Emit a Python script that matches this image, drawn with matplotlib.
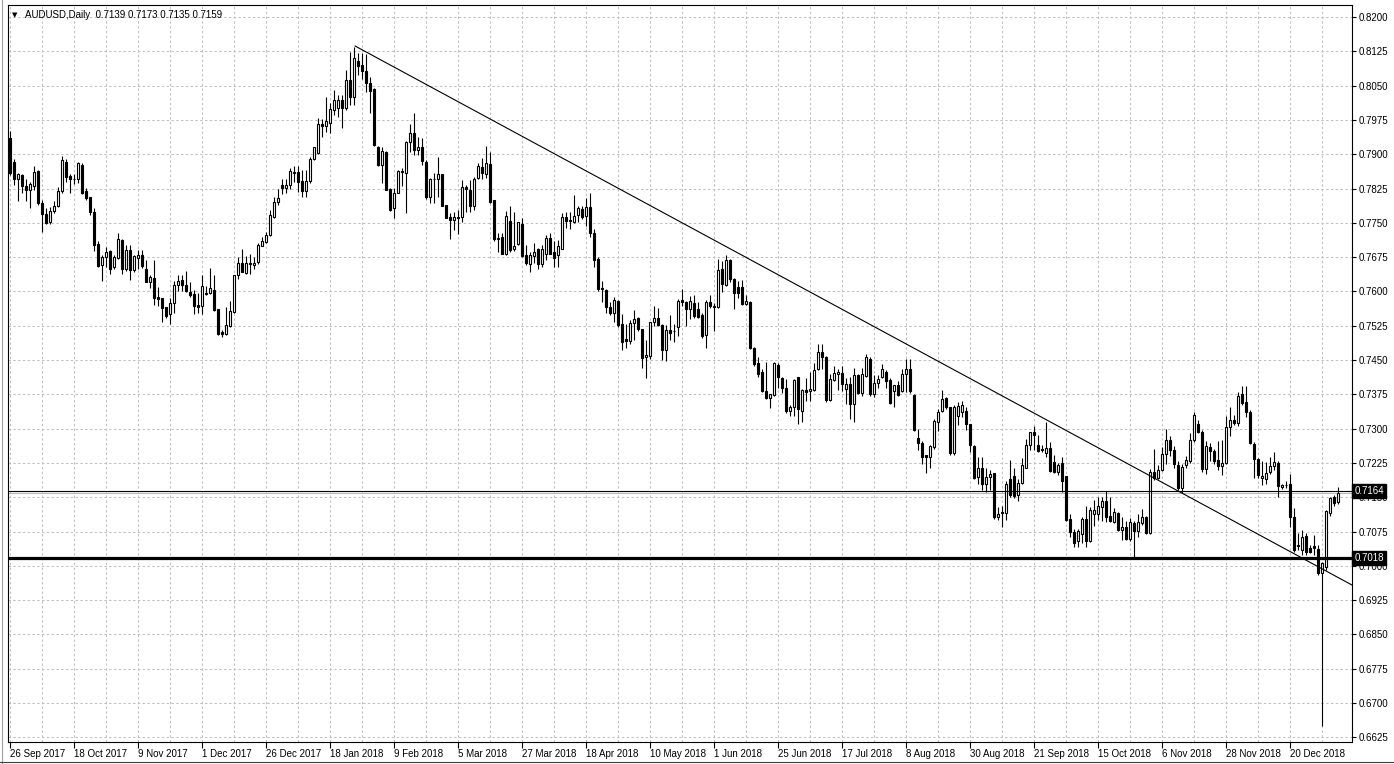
import matplotlib
matplotlib.use("Agg")
import matplotlib.pyplot as plt
import matplotlib.transforms as mtransforms
import numpy as np

plt.rcParams['font.family'] = ['Liberation Sans', 'DejaVu Sans']

# ---------------- data (AUDUSD daily) ----------------
opens = [
 .7935,.7884,.7847,.7855,.7831,.7823,.7831,.7863,.7793,.7769,.7751,.7776,.7786,.7819,.7884,.7853,.7847,.7845,.7877,.7820,
 .7806,.7774,.7704,.7658,.7675,.7688,.7654,.7674,.7712,.7649,.7690,.7648,.7674,.7679,.7650,.7621,.7630,.7587,.7585,.7566,
 .7550,.7575,.7615,.7625,.7614,.7598,.7594,.7570,.7569,.7597,.7596,.7604,.7561,.7512,.7508,.7525,.7556,.7636,.7663,.7641,
 .7662,.7658,.7665,.7700,.7709,.7723,.7762,.7796,.7832,.7826,.7832,.7860,.7862,.7841,.7820,.7842,.7890,.7902,.7966,.7962,
 .7969,.7997,.8001,.8019,.8001,.8063,.8026,.8103,.8096,.8083,.8056,.8043,.7916,.7877,.7906,.7824,.7782,.7816,.7864,.7859,
 .7926,.7946,.7910,.7917,.7883,.7807,.7846,.7845,.7856,.7789,.7762,.7756,.7761,.7762,.7828,.7823,.7787,.7849,.7873,.7858,
 .7879,.7800,.7714,.7720,.7683,.7755,.7692,.7704,.7747,.7680,.7661,.7677,.7694,.7661,.7683,.7716,.7687,.7680,.7694,.7762,
 .7757,.7753,.7767,.7780,.7765,.7785,.7729,.7672,.7607,.7604,.7567,.7554,.7579,.7530,.7496,.7492,.7531,.7543,.7517,.7456,
 .7458,.7533,.7543,.7527,.7471,.7516,.7513,.7522,.7582,.7576,.7561,.7574,.7561,.7549,.7505,.7576,.7568,.7565,.7649,.7614,
 .7668,.7627,.7609,.7609,.7572,.7578,.7477,.7443,.7423,.7383,.7367,.7374,.7440,.7410,.7390,.7339,.7348,.7412,.7339,.7384,
 .7382,.7384,.7431,.7467,.7457,.7362,.7406,.7419,.7421,.7386,.7397,.7355,.7418,.7379,.7416,.7452,.7375,.7399,.7413,.7424,
 .7406,.7383,.7395,.7383,.7420,.7430,.7374,.7279,.7269,.7242,.7237,.7260,.7314,.7339,.7368,.7348,.7247,.7327,.7337,.7339,
 .7311,.7262,.7195,.7215,.7179,.7195,.7202,.7106,.7118,.7116,.7190,.7196,.7155,.7181,.7215,.7264,.7293,.7264,.7255,.7247,
 .7258,.7228,.7206,.7225,.7196,.7103,.7074,.7055,.7070,.7103,.7055,.7114,.7114,.7128,.7142,.7108,.7096,.7115,.7079,.7086,
 .7059,.7093,.7077,.7093,.7107,.7072,.7205,.7192,.7210,.7244,.7275,.7254,.7220,.7171,.7220,.7229,.7276,.7311,.7293,.7212,
 .7261,.7252,.7232,.7219,.7225,.7303,.7318,.7312,.7376,.7358,.7336,.7267,.7234,.7192,.7189,.7205,.7219,.7225,.7173,.7177,
 .7179,.7106,.7043,.7035,.7066,.7039,.7043,.7037,.6985,.6997,.7115,.7150,.7139]
highs = [
 .7950,.7889,.7860,.7856,.7847,.7840,.7874,.7866,.7800,.7782,.7785,.7798,.7829,.7897,.7889,.7858,.7858,.7884,.7882,.7826,
 .7807,.7782,.7711,.7680,.7698,.7690,.7680,.7729,.7715,.7701,.7701,.7680,.7690,.7690,.7669,.7636,.7669,.7610,.7586,.7567,
 .7585,.7623,.7636,.7636,.7644,.7621,.7603,.7596,.7637,.7612,.7652,.7636,.7561,.7515,.7566,.7580,.7637,.7676,.7694,.7678,
 .7681,.7675,.7705,.7719,.7730,.7778,.7807,.7825,.7845,.7845,.7869,.7874,.7874,.7865,.7866,.7895,.7917,.7979,.7977,.8025,
 .8012,.8041,.8030,.8030,.8085,.8123,.8135,.8121,.8121,.8120,.8068,.8045,.7918,.7916,.7908,.7826,.7826,.7866,.7871,.7929,
 .7967,.7991,.7937,.7935,.7888,.7849,.7859,.7895,.7858,.7790,.7771,.7774,.7778,.7844,.7833,.7844,.7851,.7880,.7891,.7919,
 .7904,.7800,.7727,.7727,.7776,.7787,.7774,.7753,.7760,.7701,.7687,.7705,.7696,.7701,.7723,.7727,.7710,.7712,.7771,.7774,
 .7774,.7811,.7787,.7787,.7804,.7815,.7736,.7675,.7623,.7606,.7578,.7589,.7582,.7551,.7530,.7538,.7559,.7545,.7519,.7494,
 .7534,.7568,.7563,.7529,.7527,.7549,.7529,.7583,.7605,.7580,.7590,.7592,.7578,.7552,.7582,.7593,.7575,.7671,.7666,.7680,
 .7672,.7629,.7624,.7625,.7592,.7580,.7478,.7456,.7430,.7445,.7375,.7445,.7443,.7412,.7408,.7351,.7408,.7413,.7387,.7410,
 .7423,.7443,.7485,.7485,.7459,.7419,.7437,.7430,.7437,.7410,.7413,.7432,.7420,.7432,.7464,.7456,.7418,.7418,.7441,.7428,
 .7410,.7389,.7405,.7430,.7452,.7452,.7376,.7300,.7272,.7242,.7265,.7322,.7342,.7384,.7370,.7348,.7352,.7359,.7361,.7348,
 .7311,.7264,.7238,.7237,.7215,.7209,.7204,.7129,.7132,.7185,.7231,.7215,.7190,.7235,.7277,.7293,.7306,.7286,.7264,.7315,
 .7271,.7242,.7225,.7239,.7196,.7114,.7080,.7081,.7106,.7130,.7128,.7143,.7150,.7150,.7163,.7150,.7127,.7117,.7107,.7099,
 .7105,.7099,.7114,.7125,.7109,.7212,.7256,.7220,.7260,.7300,.7283,.7262,.7230,.7222,.7240,.7290,.7336,.7320,.7297,.7272,
 .7268,.7255,.7274,.7276,.7327,.7347,.7330,.7380,.7394,.7394,.7340,.7270,.7236,.7229,.7227,.7239,.7249,.7230,.7180,.7186,
 .7201,.7126,.7071,.7079,.7071,.7045,.7068,.7045,.7009,.7122,.7151,.7155,.7173]
lows = [
 .7855,.7833,.7798,.7816,.7798,.7783,.7822,.7789,.7731,.7747,.7747,.7772,.7784,.7816,.7840,.7816,.7836,.7837,.7813,.7801,
 .7767,.7689,.7654,.7623,.7654,.7638,.7649,.7670,.7638,.7645,.7625,.7643,.7650,.7652,.7620,.7607,.7570,.7569,.7534,.7541,
 .7529,.7554,.7601,.7601,.7598,.7587,.7550,.7554,.7550,.7593,.7594,.7557,.7504,.7500,.7504,.7523,.7554,.7627,.7643,.7639,
 .7639,.7649,.7661,.7699,.7707,.7721,.7761,.7789,.7814,.7816,.7825,.7840,.7818,.7807,.7807,.7838,.7888,.7900,.7937,.7948,
 .7946,.7986,.7981,.7957,.7997,.8008,.8008,.8074,.8064,.8037,.7990,.7918,.7875,.7837,.7821,.7777,.7760,.7815,.7831,.7772,
 .7906,.7899,.7899,.7877,.7802,.7793,.7793,.7807,.7786,.7760,.7714,.7734,.7726,.7753,.7774,.7774,.7778,.7847,.7847,.7849,
 .7794,.7711,.7687,.7681,.7680,.7687,.7689,.7702,.7676,.7658,.7643,.7663,.7650,.7654,.7669,.7681,.7654,.7653,.7692,.7738,
 .7736,.7750,.7753,.7759,.7743,.7720,.7654,.7601,.7578,.7552,.7548,.7534,.7523,.7472,.7476,.7485,.7494,.7514,.7433,.7411,
 .7453,.7525,.7525,.7450,.7448,.7493,.7489,.7503,.7568,.7525,.7539,.7541,.7541,.7498,.7477,.7563,.7514,.7563,.7599,.7612,
 .7620,.7561,.7586,.7570,.7570,.7474,.7438,.7413,.7380,.7364,.7346,.7372,.7390,.7379,.7335,.7328,.7328,.7311,.7315,.7361,
 .7361,.7382,.7428,.7430,.7359,.7361,.7405,.7385,.7383,.7353,.7321,.7315,.7376,.7372,.7414,.7372,.7370,.7390,.7411,.7390,
 .7353,.7348,.7372,.7381,.7381,.7379,.7295,.7253,.7222,.7203,.7213,.7255,.7295,.7337,.7343,.7242,.7242,.7308,.7325,.7297,
 .7249,.7191,.7179,.7165,.7162,.7165,.7103,.7100,.7085,.7100,.7151,.7149,.7142,.7179,.7213,.7253,.7253,.7250,.7250,.7238,
 .7205,.7203,.7198,.7162,.7099,.7063,.7041,.7042,.7050,.7041,.7052,.7088,.7101,.7099,.7096,.7096,.7094,.7077,.7057,.7057,
 .7055,.7019,.7063,.7090,.7070,.7070,.7187,.7190,.7208,.7223,.7240,.7215,.7165,.7160,.7215,.7225,.7270,.7290,.7205,.7201,
 .7229,.7222,.7209,.7198,.7222,.7285,.7308,.7305,.7352,.7325,.7266,.7193,.7193,.7176,.7179,.7201,.7209,.7150,.7168,.7170,
 .7086,.7031,.7035,.7024,.7024,.7028,.7024,.6980,.6650,.6991,.7110,.7132,.7135]
closes = [
 .7860,.7845,.7857,.7831,.7823,.7834,.7861,.7793,.7769,.7750,.7777,.7787,.7820,.7888,.7851,.7847,.7845,.7880,.7815,.7804,
 .7774,.7701,.7656,.7676,.7687,.7649,.7676,.7715,.7649,.7690,.7647,.7677,.7679,.7656,.7621,.7632,.7586,.7584,.7563,.7547,
 .7575,.7615,.7623,.7615,.7601,.7592,.7569,.7565,.7612,.7595,.7607,.7559,.7508,.7506,.7526,.7557,.7636,.7663,.7643,.7663,
 .7661,.7663,.7701,.7710,.7724,.7767,.7796,.7805,.7826,.7832,.7863,.7862,.7840,.7820,.7841,.7890,.7915,.7966,.7961,.7972,
 .7999,.8019,.8018,.8001,.8063,.8026,.8110,.8094,.8083,.8056,.8039,.7921,.7877,.7907,.7822,.7778,.7815,.7864,.7862,.7928,
 .7946,.7910,.7915,.7886,.7806,.7845,.7845,.7856,.7788,.7761,.7756,.7762,.7762,.7828,.7825,.7787,.7847,.7874,.7860,.7880,
 .7796,.7714,.7718,.7683,.7765,.7690,.7699,.7751,.7677,.7663,.7680,.7687,.7661,.7694,.7718,.7683,.7674,.7699,.7762,.7755,
 .7754,.7765,.7783,.7763,.7785,.7729,.7669,.7605,.7605,.7565,.7554,.7582,.7527,.7490,.7492,.7532,.7539,.7517,.7454,.7461,
 .7533,.7541,.7527,.7471,.7516,.7510,.7514,.7580,.7576,.7561,.7579,.7547,.7545,.7503,.7576,.7568,.7567,.7647,.7616,.7669,
 .7627,.7596,.7596,.7573,.7579,.7476,.7441,.7419,.7383,.7367,.7375,.7443,.7413,.7390,.7339,.7348,.7406,.7342,.7384,.7381,
 .7386,.7428,.7467,.7456,.7362,.7408,.7421,.7423,.7397,.7397,.7355,.7418,.7379,.7419,.7456,.7375,.7399,.7408,.7431,.7405,
 .7357,.7395,.7374,.7419,.7430,.7383,.7298,.7269,.7238,.7238,.7262,.7317,.7337,.7364,.7348,.7246,.7348,.7349,.7352,.7311,
 .7264,.7193,.7215,.7179,.7195,.7201,.7106,.7114,.7116,.7180,.7155,.7152,.7182,.7220,.7264,.7293,.7286,.7252,.7253,.7257,
 .7208,.7206,.7220,.7186,.7101,.7074,.7050,.7076,.7103,.7055,.7123,.7123,.7130,.7142,.7107,.7098,.7118,.7079,.7086,.7059,
 .7096,.7077,.7096,.7107,.7072,.7205,.7193,.7210,.7245,.7275,.7254,.7223,.7171,.7216,.7231,.7276,.7329,.7293,.7212,.7263,
 .7252,.7229,.7219,.7225,.7303,.7318,.7312,.7372,.7356,.7336,.7268,.7234,.7198,.7197,.7203,.7219,.7227,.7174,.7177,.7176,
 .7106,.7034,.7046,.7064,.7031,.7031,.7040,.6984,.7006,.7119,.7148,.7137,.7159]

date_labels = ["26 Sep 2017", "18 Oct 2017", "9 Nov 2017", "1 Dec 2017", "26 Dec 2017",
               "18 Jan 2018", "9 Feb 2018", "5 Mar 2018", "27 Mar 2018", "18 Apr 2018",
               "10 May 2018", "1 Jun 2018", "25 Jun 2018", "17 Jul 2018", "8 Aug 2018",
               "30 Aug 2018", "21 Sep 2018", "15 Oct 2018", "6 Nov 2018", "28 Nov 2018",
               "20 Dec 2018"]
price_labels = ["0.6625", "0.6700", "0.6775", "0.6850", "0.6925", "0.7000", "0.7075",
                "0.7150", "0.7225", "0.7300", "0.7375", "0.7450", "0.7525", "0.7600",
                "0.7675", "0.7750", "0.7825", "0.7900", "0.7975", "0.8050", "0.8125", "0.8200"]

resistance_level = 0.7164
support_level = 0.7018
bid_price = 0.7159
trend_idx = [86.2, 335.4]
trend_price = [0.81368, 0.69581]
header_symbol = "AUDUSD,Daily"
header_ohlc = "0.7139 0.7173 0.7135 0.7159"

# ---------------- figure ----------------
W, H = 1394, 764
fig = plt.figure(figsize=(W / 100, H / 100), dpi=100)
fig.patch.set_facecolor('white')

left_px, right_px, top_px, bottom_px = 8, 1352, 5, 741.7
ax = fig.add_axes([left_px / W, 1 - bottom_px / H, (right_px - left_px) / W, (bottom_px - top_px) / H])
ax.set_facecolor('white')

n = len(closes)
xs = np.arange(n)
o = np.array(opens); h = np.array(highs); l = np.array(lows); c = np.array(closes)

ax.set_xlim(-0.575, 335.4)
ax.set_ylim(0.66155, 0.82265)

# grid
grid_kw = dict(color='#c0c0c0', lw=0.75, linestyle=(0, (2.3, 2.3)), zorder=0)
for gx in range(0, 336, 8):
    ax.axvline(gx, **grid_kw)
price_vals = [float(p) for p in price_labels]
for gy in price_vals:
    ax.axhline(gy, **grid_kw)

# candles
top = np.maximum(h, np.maximum(o, c))
bot = np.minimum(l, np.minimum(o, c))
ax.vlines(xs, bot, top, color='black', lw=0.8, zorder=2)
bull = c >= o
body_bot = np.minimum(o, c)
body_h = np.abs(c - o)
ax.bar(xs[bull], body_h[bull], bottom=body_bot[bull], width=0.5,
       facecolor='white', edgecolor='black', lw=0.8, zorder=3)
ax.bar(xs[~bull], body_h[~bull], bottom=body_bot[~bull], width=0.5,
       facecolor='black', edgecolor='black', lw=0.8, zorder=3)

# lines
ax.axhline(bid_price, color='#b8b8b8', lw=0.8, zorder=1)
ax.axhline(resistance_level, color='black', lw=0.8, zorder=4)
ax.axhline(support_level, color='black', lw=2.3, zorder=4)
ax.plot(trend_idx, trend_price, color='black', lw=0.8, zorder=4)

# axes styling
for s in ax.spines.values():
    s.set_color('black')
    s.set_linewidth(0.8)

ax.yaxis.tick_right()
ax.set_yticks(price_vals)
ax.set_yticklabels(price_labels)
ax.tick_params(axis='y', which='both', length=3, width=0.8, pad=2, labelsize=7, colors='black')

ax.set_xticks(list(range(0, 16 * len(date_labels), 16)))
ax.set_xticklabels(date_labels, ha='left')
ax.tick_params(axis='x', length=4, width=0.8, pad=1.5, labelsize=7, colors='black')
for t in ax.get_xticklabels():
    t.set_x(t.get_position()[0])

# right-axis boxes
trans = mtransforms.blended_transform_factory(ax.transAxes, ax.transData)
for lvl in (resistance_level, support_level):
    ax.text(1.0 + 2.5 / (right_px - left_px), lvl, f"{lvl:.4f}", transform=trans,
            ha='left', va='center', fontsize=7, color='white', zorder=10,
            bbox=dict(boxstyle='square,pad=0.22', fc='black', ec='black'), clip_on=False)

# header
fig.text(12 / W, 1 - 15 / H, "\u25BC", fontsize=5, ha='left', va='center',
         family=['DejaVu Sans'])
fig.text(25 / W, 1 - 15 / H, header_symbol + "  " + header_ohlc, fontsize=7,
         ha='left', va='center')

# window chrome
fig.add_artist(plt.Line2D([1.5 / W, 1.5 / W], [0, 1], color='#a0a0a0', lw=0.8))
fig.add_artist(plt.Line2D([0, 1], [1 - 762 / H, 1 - 762 / H], color='#404040', lw=0.8))

fig.savefig("out.png", dpi=100, facecolor='white')
